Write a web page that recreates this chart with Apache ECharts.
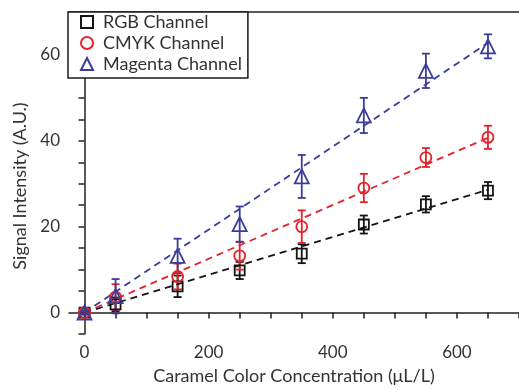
<!DOCTYPE html>
<html><head><meta charset="utf-8">
<script src="https://cdn.jsdelivr.net/npm/echarts@6/dist/echarts.min.js"></script>
<style>html,body{margin:0;padding:0;background:#fff}#c{width:519px;height:390px}</style>
</head><body><div id="c"></div>
<script>
const concentrations = [0, 50, 150, 250, 350, 450, 550, 650];
const rgbValues = [0, 1.9, 6.1, 9.8, 13.7, 20.5, 25.2, 28.4];
const rgbErrors = [0.4, 1.6, 2.5, 2.0, 2.2, 2.1, 1.9, 2.0];
const cmykValues = [0, 3.6, 8.4, 13.2, 20.0, 29.0, 36.1, 40.8];
const cmykErrors = [0.4, 3.0, 3.0, 3.2, 3.8, 3.3, 2.2, 2.7];
const magentaValues = [0, 3.8, 13.2, 20.6, 31.7, 45.9, 56.3, 62.0];
const magentaErrors = [0.5, 4.0, 4.0, 4.1, 5.0, 4.1, 4.0, 2.8];
const fitX = [0, 650];
const rgbFit = [0, 28.6];
const cmykFit = [0, 40.7];
const magentaFit = [0, 62.8];
const xTicks = [0, 50, 100, 150, 200, 250, 300, 350, 400, 450, 500, 550, 600, 650, 700];
const xLabels = [0, 200, 400, 600];
const seriesNames = ['RGB Channel', 'CMYK Channel', 'Magenta Channel'];
const colors = ['#141414', '#e5222b', '#3a3d9c'];

const FONT = 'Lato';
const chart = echarts.init(document.getElementById('c'));

function pts(vals) { return concentrations.map((x, i) => [x, vals[i]]); }
function errData(vals, errs) { return concentrations.map((x, i) => [x, vals[i] - errs[i], vals[i] + errs[i]]); }
function errSeries(vals, errs, color) {
  return {
    type: 'custom', silent: true, z: 3,
    data: errData(vals, errs),
    renderItem: function (params, api) {
      const x = api.value(0);
      const lo = api.coord([x, api.value(1)]);
      const hi = api.coord([x, api.value(2)]);
      const w = 4;
      return {
        type: 'group',
        children: [
          { type: 'line', shape: { x1: lo[0], y1: lo[1], x2: hi[0], y2: hi[1] }, style: { stroke: color, lineWidth: 1.8 } },
          { type: 'line', shape: { x1: lo[0] - w, y1: lo[1], x2: lo[0] + w, y2: lo[1] }, style: { stroke: color, lineWidth: 1.8 } },
          { type: 'line', shape: { x1: hi[0] - w, y1: hi[1], x2: hi[0] + w, y2: hi[1] }, style: { stroke: color, lineWidth: 1.8 } }
        ]
      };
    }
  };
}
function fitSeries(fit, color) {
  return {
    type: 'line', name: 'fit', silent: true, z: 4, symbol: 'none',
    data: fitX.map((x, i) => [x, fit[i]]),
    lineStyle: { color: color, width: 1.8, type: [7, 5] }
  };
}
function scatterSeries(name, vals, color, symbol, size) {
  return {
    type: 'scatter', name: name, z: 5, symbol: symbol, symbolSize: size,
    data: pts(vals),
    itemStyle: { color: 'rgba(255,255,255,0)', borderColor: color, borderWidth: 1.8, opacity: 1 }
  };
}

chart.setOption({
  animation: false,
  backgroundColor: '#fff',
  grid: { left: 69, top: 12, width: 459, height: 326, show: false },
  legend: {
    data: seriesNames, orient: 'vertical', left: 68, top: 12,
    backgroundColor: '#fff', borderColor: '#1a1a1a', borderWidth: 1.5,
    padding: [1, 6, 5, 12], itemGap: 3, itemWidth: 12, itemHeight: 12,
    textStyle: { fontFamily: FONT, fontSize: 18, lineHeight: 18, color: '#333', padding: [0, 0, 0, 5] },
    selectedMode: false
  },
  xAxis: [{
    type: 'value', min: -25, max: 700,
    name: 'Caramel Color Concentration (\u03bcL/L)', nameLocation: 'middle', nameGap: 33,
    nameTextStyle: { fontFamily: FONT, fontSize: 18, color: '#333' },
    axisLine: { show: true, lineStyle: { color: '#222', width: 1.5 } },
    axisTick: { show: true, inside: false, length: 6, customValues: xTicks, lineStyle: { color: '#222', width: 1.5 } },
    axisLabel: { customValues: xLabels, fontFamily: FONT, fontSize: 17, color: '#333', margin: 10 },
    splitLine: { show: false }
  }, {
    type: 'value', min: -25, max: 700, position: 'top',
    axisLine: { show: true, onZero: false, lineStyle: { color: '#222', width: 1.5 } },
    axisTick: { show: false }, axisLabel: { show: false }, splitLine: { show: false }
  }],
  yAxis: {
    type: 'value', min: -5, max: 70, interval: 5,
    name: 'Signal Intensity (A.U.)', nameLocation: 'middle', nameGap: 37,
    nameTextStyle: { fontFamily: FONT, fontSize: 18, color: '#333', padding: [0, 26, 0, 0] },
    axisLine: { show: true, lineStyle: { color: '#222', width: 1.5 } },
    axisTick: { show: true, inside: false, length: 6, lineStyle: { color: '#222', width: 1.5 } },
    axisLabel: {
      fontFamily: FONT, fontSize: 17, color: '#333', margin: 9,
      formatter: function (v) { return (v >= 0 && v % 20 === 0) ? String(v) : ''; }
    },
    splitLine: { show: false }
  },
  series: [
    errSeries(rgbValues, rgbErrors, colors[0]),
    errSeries(cmykValues, cmykErrors, colors[1]),
    errSeries(magentaValues, magentaErrors, colors[2]),
    fitSeries(rgbFit, colors[0]),
    fitSeries(cmykFit, colors[1]),
    fitSeries(magentaFit, colors[2]),
    scatterSeries(seriesNames[0], rgbValues, colors[0], 'rect', 10),
    scatterSeries(seriesNames[1], cmykValues, colors[1], 'circle', 11),
    scatterSeries(seriesNames[2], magentaValues, colors[2], 'triangle', 14)
  ]
});
</script></body></html>
